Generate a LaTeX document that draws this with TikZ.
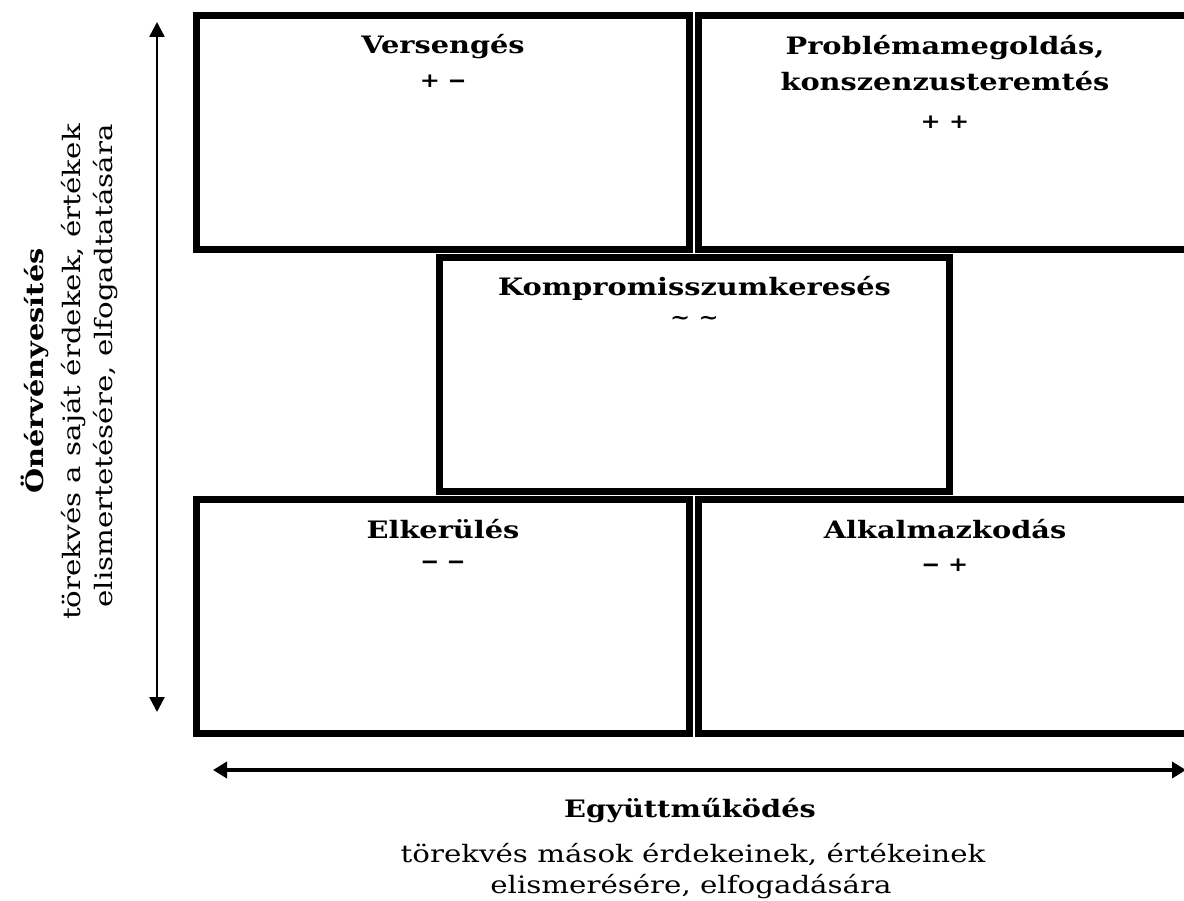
\documentclass[tikz,border=0pt]{standalone}
\usepackage{fontspec}
\setmainfont{DejaVu Serif}
\newfontfamily\titlef{DejaVu Serif}[FakeStretch=1.2]
\newfontfamily\bodyf{DejaVu Serif}[FakeStretch=1.22]
\usetikzlibrary{arrows.meta}
\newcommand{\dsh}{\scalebox{1.5}[1.15]{–}}
\tikzset{
  box/.style={draw=black, line width=7pt, minimum width=493pt, minimum height=234pt, inner sep=0pt, outer sep=0pt},
  ttl/.style={font={\titlef\bfseries\fontsize{24}{28}\selectfont}, anchor=base, inner sep=0pt},
  sgn/.style={font={\titlef\bfseries\fontsize{20}{22}\selectfont}, anchor=center, inner sep=0pt},
  bdy/.style={font={\bodyf\fontsize{24}{30}\selectfont}, anchor=base, inner sep=0pt},
  vaxis/.style={line width=2.5pt, {Triangle[width=15pt,length=15pt]}-{Triangle[width=15pt,length=15pt]}},
  haxis/.style={line width=3.5pt, {Triangle[width=16pt,length=14pt]}-{Triangle[width=16pt,length=14pt]}},
}
\begin{document}
\begin{tikzpicture}[x=1pt,y=-1pt]
\useasboundingbox (0,0) rectangle (1184,901);
\clip (0,0) rectangle (1184,901);
% boxes
\node[box] (vers) at (443,132.5) {};
\node[box] (prob) at (945,132.5) {};
\node[box, minimum width=510pt] (komp) at (694.5,374.5) {};
\node[box] (elk) at (443,616.5) {};
\node[box] (alk) at (945,616.5) {};
% box texts
\node[ttl] (t1) at (443,54) {Versengés};
\node[sgn] (s1) at (443,81) {+ \dsh};
\node[ttl] (t2a) at (945,55) {Problémamegoldás,};
\node[ttl] (t2b) at (945,91) {konszenzusteremtés};
\node[sgn] (s2) at (945,122) {+ +};
\node[ttl] (t3) at (694.5,296) {Kompromisszumkeresés};
\node[sgn] (s3) at (694.5,320) {\textasciitilde\ \textasciitilde};
\node[ttl] (t4) at (443,538) {Elkerülés};
\node[sgn] (s4) at (443,565) {\dsh\ \dsh};
\node[ttl] (t5) at (945,538) {Alkalmazkodás};
\node[sgn] (s5) at (945,565) {\dsh\ +};
% axes
\coordinate (vtop) at (157,22);
\coordinate (vbot) at (157,712);
\draw[vaxis] (vbot) -- (vtop);
\coordinate (hl) at (213,770);
\coordinate (hr) at (1186,770);
\draw[haxis] (hl) -- (hr);
% axis labels
\node[ttl] (xt) at (690,817) {Együttműködés};
\node[bdy] (xb1) at (693,862) {törekvés mások érdekeinek, értékeinek};
\node[bdy] (xb2) at (691,893) {elismerésére, elfogadására};
\node[ttl, rotate=90] (yt) at (43,371) {Önérvényesítés};
\node[bdy, rotate=90] (yb1) at (80,372) {törekvés a saját érdekek, értékek};
\node[bdy, rotate=90] (yb2) at (112,366) {elismertetésére, elfogadtatására};
\end{tikzpicture}
\end{document}
